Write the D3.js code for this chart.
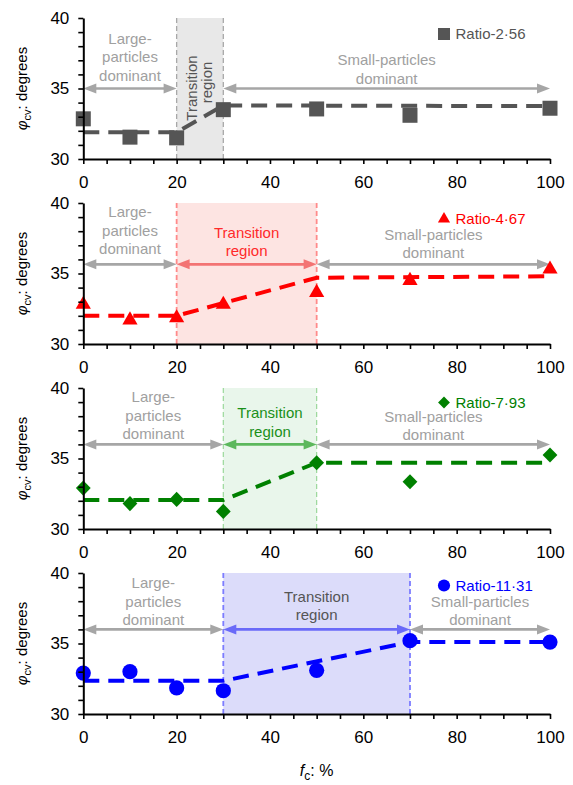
<!DOCTYPE html>
<html>
<head>
<meta charset="utf-8">
<script src="https://cdn.jsdelivr.net/npm/d3@7"></script>
<style>
  html, body { margin: 0; padding: 0; background: #fff; }
  svg { display: block; font-family: "Liberation Sans", Arial, sans-serif; }
</style>
</head>
<body>
<svg id="chart" width="573" height="785"></svg>
<script>
// Critical-state friction angle versus fines content, four size ratios
const fcValues = [0, 10, 20, 30, 50, 70, 100];
const ratioNames = ["Ratio-2·56", "Ratio-4·67", "Ratio-7·93", "Ratio-11·31"];
const phiRatio256 = [32.85, 31.55, 31.5, 33.5, 33.55, 33.1, 33.6];
const phiRatio467 = [32.8, 31.7, 31.85, 32.8, 33.65, 34.5, 35.3];
const phiRatio793 = [32.9, 31.8, 32.1, 31.25, 34.7, 33.35, 35.25];
const phiRatio1131 = [32.9, 33.0, 31.85, 31.65, 33.1, 35.2, 35.1];

// Tri-linear trend lines (fc, phi)
const trend256 = [[0, 31.9], [20, 31.9], [30, 33.8], [100, 33.75]];
const trend467 = [[0, 32.0], [20, 32.0], [50, 34.7], [100, 34.8]];
const trend793 = [[0, 32.05], [30, 32.05], [50, 34.7], [100, 34.7]];
const trend1131 = [[0, 32.35], [30, 32.35], [70, 35.1], [100, 35.1]];

// Transition region bounds (fc) and level of the region arrows (phi)
const transitionBounds = [[20, 30], [20, 50], [30, 50], [30, 70]];
const arrowLevels = [35, 35.65, 36, 36];

const xTickValues = [0, 20, 40, 60, 80, 100];
const yTickValues = [30, 35, 40];
const xDomain = [0, 100];
const yDomain = [30, 40];

const series = [phiRatio256, phiRatio467, phiRatio793, phiRatio1131];
const trends = [trend256, trend467, trend793, trend1131];

// Styling per panel
const styles = [
  { main: "#555555", shade: "#e8e8e8", vline: "#a8a8a8", vlineW: 1.3, midArrow: null, midText: "#555555", marker: "square", rotateMid: true },
  { main: "#ff0000", shade: "#fde4e2", vline: "#ff8a8a", vlineW: 1.8, midArrow: "#f37373", midText: "#ff2a2a", marker: "triangle", rotateMid: false },
  { main: "#008000", shade: "#e9f6eb", vline: "#9ad89a", vlineW: 1.2, midArrow: "#5cb85c", midText: "#1a901a", marker: "diamond", rotateMid: false },
  { main: "#0000ff", shade: "#dcdcfa", vline: "#7c7cff", vlineW: 1.8, midArrow: "#6a6af8", midText: "#555555", marker: "circle", rotateMid: false }
];

// Label offsets (px above the arrow line) for the three text blocks
const labelLayout = [
  { large: 12.5, small: 10, mid: null },
  { large: 15, small: 11, mid: 13 },
  { large: 10, small: 9, mid: 12.6 },
  { large: 9.3, small: 9.3, mid: 14.3 }
];
const legendDy = [16, 16, 14.5, 12.5];

const left = 83.3, plotW = 466.7, plotH = 141, firstTop = 18, step = 185;
const lineGap = 18.6;
const grey = "#a6a6a6", greyText = "#a0a0a0";

const svg = d3.select("#chart");
const x = d3.scaleLinear().domain(xDomain).range([0, plotW]);

function markerPath(kind, s) {
  if (kind === "square") return `M${-7.5*s},${-7.5*s}h${15*s}v${15*s}h${-15*s}Z`;
  if (kind === "triangle") return `M0,${-8.7*s}L${7.6*s},${4.35*s}L${-7.6*s},${4.35*s}Z`;
  if (kind === "diamond") return `M0,${-7.6*s}L${7.4*s},0L0,${7.6*s}L${-7.4*s},0Z`;
  const r = 7.6 * s;
  return `M${r},0A${r},${r} 0 1,1 ${-r},0A${r},${r} 0 1,1 ${r},0Z`;
}

function arrow(g, x0, x1, yv, color) {
  const head = 13, half = 5;
  g.append("line").attr("x1", x0 + head - 1).attr("x2", x1 - head + 1)
    .attr("y1", yv).attr("y2", yv).attr("stroke", color).attr("stroke-width", 2.6);
  g.append("path").attr("d", `M${x0},${yv}L${x0 + head},${yv - half}L${x0 + head},${yv + half}Z`).attr("fill", color);
  g.append("path").attr("d", `M${x1},${yv}L${x1 - head},${yv - half}L${x1 - head},${yv + half}Z`).attr("fill", color);
}

function textBlock(g, lines, cx, bottomY, color) {
  const n = lines.length;
  lines.forEach((t, i) => {
    g.append("text").attr("x", cx).attr("y", bottomY - (n - 1 - i) * lineGap)
      .attr("text-anchor", "middle").attr("font-size", 15).attr("fill", color).text(t);
  });
}

series.forEach((vals, i) => {
  const st = styles[i];
  const top = firstTop + i * step;
  const y = d3.scaleLinear().domain(yDomain).range([plotH, 0]);
  const g = svg.append("g").attr("transform", `translate(${left},${top})`);
  const [t0, t1] = transitionBounds[i];

  // transition band
  g.append("rect").attr("x", x(t0)).attr("y", 0).attr("width", x(t1) - x(t0)).attr("height", plotH)
    .attr("fill", st.shade);
  [t0, t1].forEach(v => {
    g.append("line").attr("x1", x(v)).attr("x2", x(v)).attr("y1", 0).attr("y2", plotH)
      .attr("stroke", st.vline).attr("stroke-width", st.vlineW).attr("stroke-dasharray", "5,3");
  });

  // region arrows
  const ay = y(arrowLevels[i]);
  arrow(g, x(0), x(t0), ay, grey);
  arrow(g, x(t1), x(100), ay, grey);
  if (st.midArrow) arrow(g, x(t0), x(t1), ay, st.midArrow);

  // region labels (bottom line sits the given distance above the arrow, baseline = center + 5)
  const L = labelLayout[i];
  textBlock(g, ["Large-", "particles", "dominant"], x(t0 / 2), ay - L.large + 5, greyText);
  textBlock(g, ["Small-particles", "dominant"], x((t1 + 100) / 2), ay - L.small + 5, greyText);
  if (st.rotateMid) {
    const cx = x((t0 + t1) / 2);
    const mg = g.append("g").attr("fill", st.midText).attr("font-size", 15).attr("text-anchor", "middle");
    mg.append("text").attr("transform", `translate(${cx - 8.5},${y(35) - 0.5}) rotate(-90)`).attr("dy", "0.35em").text("Transition");
    mg.append("text").attr("transform", `translate(${cx + 6.5},${y(35) - 6}) rotate(-90)`).attr("dy", "0.35em").text("region");
  } else {
    textBlock(g, ["Transition", "region"], x((t0 + t1) / 2), ay - L.mid + 5, st.midText);
  }

  // trend line
  const line = d3.line().x(d => x(d[0])).y(d => y(d[1]));
  g.append("path").attr("d", line(trends[i])).attr("fill", "none")
    .attr("stroke", st.main).attr("stroke-width", 4).attr("stroke-dasharray", "16,9");

  // data points
  g.selectAll("path.pt").data(vals).enter().append("path").attr("class", "pt")
    .attr("transform", (d, j) => `translate(${x(fcValues[j])},${y(d)})`)
    .attr("d", markerPath(st.marker, 1)).attr("fill", st.main);

  // axes
  g.append("g").attr("transform", `translate(0,${plotH})`)
    .call(d3.axisBottom(x).tickValues(xTickValues).tickSize(5).tickSizeOuter(0).tickPadding(11.5).tickFormat(d3.format("d")));
  g.append("g").attr("transform", `translate(0,${plotH})`)
    .call(d3.axisBottom(x).tickValues(d3.range(5, 100, 5).filter(v => v % 20 !== 0)).tickSize(5).tickSizeOuter(0).tickFormat(""))
    .call(a => a.select(".domain").remove());
  g.append("g")
    .call(d3.axisLeft(y).tickValues(yTickValues).tickSize(5).tickSizeOuter(0).tickPadding(9));
  g.append("g")
    .call(d3.axisLeft(y).tickValues(d3.range(31, 40, 1).filter(v => v !== 35)).tickSize(5).tickSizeOuter(0).tickFormat(""))
    .call(a => a.select(".domain").remove());
  g.selectAll(".domain").attr("stroke", "#000").attr("stroke-width", 2);
  g.selectAll(".tick line").attr("stroke", "#000").attr("stroke-width", 1.6);
  g.selectAll(".tick text").attr("font-size", 17).attr("fill", "#000")
    .attr("font-family", "'Liberation Sans', Arial, sans-serif");

  // y title
  const yt = svg.append("text").attr("transform", `translate(22,${top + plotH / 2}) rotate(-90)`)
    .attr("text-anchor", "middle").attr("dy", "0.35em").attr("font-size", 15).attr("fill", "#000");
  yt.append("tspan").attr("font-style", "italic").text("φ");
  yt.append("tspan").attr("font-size", 11).attr("dy", 4).text("cv");
  yt.append("tspan").attr("dy", -4).text(": degrees");

  // legend
  const lx = 444, ly = top + legendDy[i];
  svg.append("path").attr("transform", `translate(${lx},${ly})`).attr("d", markerPath(st.marker, 0.8)).attr("fill", st.main);
  svg.append("text").attr("x", lx + 11.5).attr("y", ly).attr("dy", "0.35em").attr("font-size", 15)
    .attr("fill", st.main).text(ratioNames[i]);
});

// x title
const xt = svg.append("text").attr("x", left + plotW / 2).attr("y", 776).attr("text-anchor", "middle")
  .attr("font-size", 16).attr("fill", "#000");
xt.append("tspan").attr("font-style", "italic").text("f");
xt.append("tspan").attr("font-size", 12).attr("dy", 4).text("c");
xt.append("tspan").attr("dy", -4).text(": %");
</script>
</body>
</html>
